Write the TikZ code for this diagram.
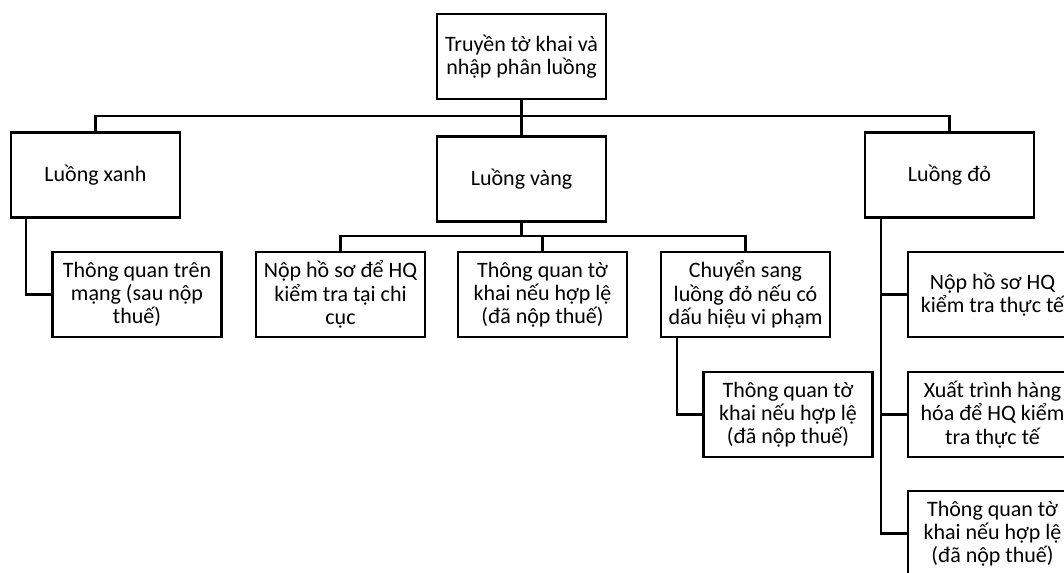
\documentclass[tikz,border=0pt]{standalone}
\usepackage{fontspec}
\setmainfont{Carlito}
\begin{document}
\begin{tikzpicture}[x=0.75pt,y=-0.75pt,
  box/.style={draw=black,line width=2.3pt*0.75,fill=white,align=center,
    minimum width=169*0.75pt,minimum height=85*0.75pt,inner sep=0pt,
    font=\fontsize{16.5}{17.4}\selectfont},
  conn/.style={draw=black,line width=2.3pt*0.75}]
\useasboundingbox (0,0) rectangle (1064,572);
\clip (0,0) rectangle (1064,572);
\fill[white] (0,0) rectangle (1064,572);
% nodes
\node[box] (top) at (521.5,56.5) {Truyền tờ khai và\\nhập phân luồng};
\node[box] (xanh) at (95.5,175) {Luồng xanh};
\node[box] (vang) at (521.5,179) {Luồng vàng};
\node[box] (do) at (949.5,175) {Luồng đỏ};
\node[box] (g1) at (137,294.5) {Thông quan trên\\mạng (sau nộp\\thuế)};
\node[box] (y1) at (340.5,294.5) {Nộp hồ sơ để HQ\\kiểm tra tại chi\\cục};
\node[box] (y2) at (542.5,294.5) {Thông quan tờ\\khai nếu hợp lệ\\(đã nộp thuế)};
\node[box] (y3) at (745.5,294.5) {Chuyển sang\\luồng đỏ nếu có\\dấu hiệu vi phạm};
\node[box] (y3c) at (788,414.5) {Thông quan tờ\\khai nếu hợp lệ\\(đã nộp thuế)};
\node[box] (r1) at (992.5,294.5) {Nộp hồ sơ HQ\\kiểm tra thực tế};
\node[box] (r2) at (992.5,414.5) {Xuất trình hàng\\hóa để HQ kiểm\\tra thực tế};
\node[box] (r3) at (992.5,533.5) {Thông quan tờ\\khai nếu hợp lệ\\(đã nộp thuế)};
% coordinates
\coordinate (b1) at (521.5,116);
\coordinate (b2) at (521.5,236);
% level 1
\draw[conn] (top.south) -- (b1);
\draw[conn] (b1) -| (xanh.north);
\draw[conn] (b1) -| (do.north);
\draw[conn] (b1) -- (vang.north);
% green
\draw[conn] ([xshift=16*0.75pt]xanh.south west) |- (g1.west);
% yellow
\draw[conn] (vang.south) -- (b2);
\draw[conn] (b2) -| (y1.north);
\draw[conn] (b2) -| (y2.north);
\draw[conn] (b2) -| (y3.north);
\draw[conn] ([xshift=17*0.75pt]y3.south west) |- (y3c.west);
% red
\draw[conn] ([xshift=17*0.75pt]do.south west) |- (r3.west);
\draw[conn] ([xshift=17*0.75pt]do.south west) |- (r1.west);
\draw[conn] ([xshift=17*0.75pt]do.south west) |- (r2.west);
\end{tikzpicture}
\end{document}
